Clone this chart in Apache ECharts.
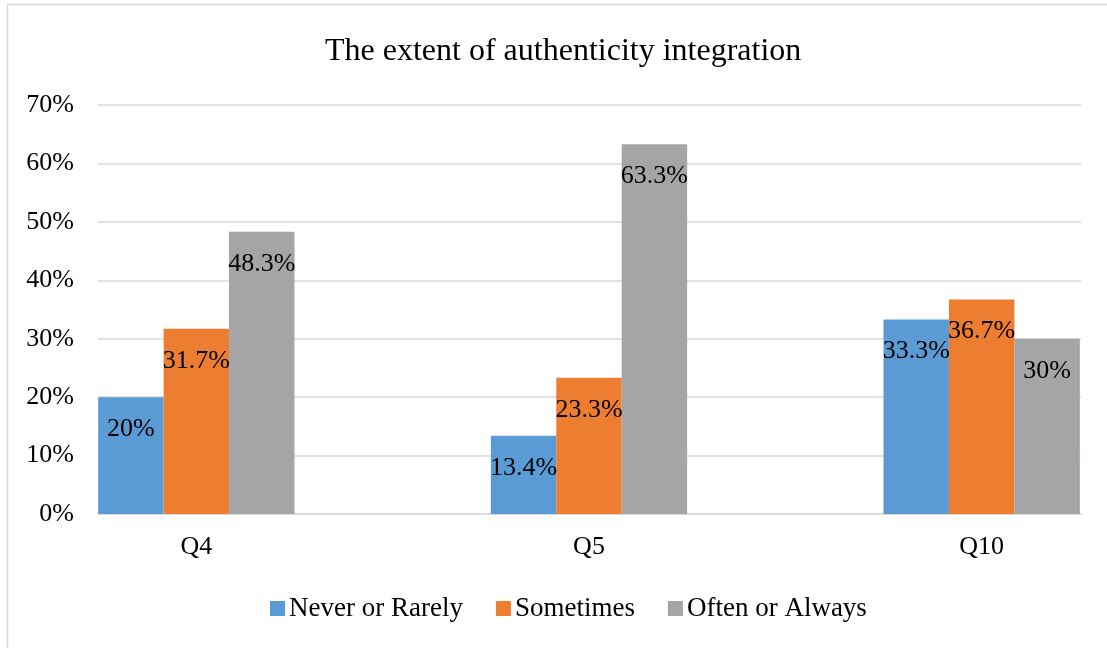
<!DOCTYPE html>
<html>
<head>
<meta charset="utf-8">
<script src="https://cdn.jsdelivr.net/npm/echarts@6/dist/echarts.min.js"></script>
<style>
html,body{margin:0;padding:0;background:#fff;}
#chart{width:1107px;height:648px;}
</style>
</head>
<body>
<div id="chart"></div>
<script>
const categories = ['Q4', 'Q5', 'Q10'];
const seriesNames = ['Never or Rarely', 'Sometimes', 'Often or Always'];
const neverOrRarely = [20, 13.4, 33.3];
const sometimes = [31.7, 23.3, 36.7];
const oftenOrAlways = [48.3, 63.3, 30];
const yTicks = [0, 10, 20, 30, 40, 50, 60, 70];
const titleText = 'The extent of authenticity integration';

const colors = ['#5b9bd5', '#ed7d31', '#a5a5a5'];
const font = 'Liberation Serif, Times New Roman, serif';
const seriesData = [neverOrRarely, sometimes, oftenOrAlways];

const chart = echarts.init(document.getElementById('chart'), null, {renderer: 'canvas'});
const yMin = yTicks[0], yMax = yTicks[yTicks.length - 1], yStep = yTicks[1] - yTicks[0];

chart.setOption({
  animation: false,
  backgroundColor: '#fff',
  color: colors,
  title: {
    text: titleText,
    left: 325,
    top: 36,
    padding: 0,
    textStyle: {fontFamily: font, fontSize: 32, fontWeight: 'normal', color: '#000'}
  },
  legend: {
    data: seriesNames,
    bottom: 26,
    left: 270,
    padding: 0,
    itemWidth: 15,
    itemHeight: 15,
    itemGap: 33,
    icon: 'rect',
    textStyle: {fontFamily: font, fontSize: 27, color: '#000', padding: [0, 0, 0, -1]}
  },
  graphic: [{
    type: 'rect',
    shape: {x: 7.5, y: 4.5, width: 1120, height: 660},
    style: {fill: 'none', stroke: '#d9d9d9', lineWidth: 1.5},
    silent: true
  }],
  grid: [
    {left: 98, right: 26, top: 105, bottom: 134, outerBoundsMode: 'none', containLabel: false},
    {left: 0, width: 1178, top: 105, bottom: 134, outerBoundsMode: 'none', containLabel: false}
  ],
  xAxis: [
    {
      gridIndex: 0, type: 'category', data: categories,
      axisLine: {show: true, lineStyle: {color: '#d9d9d9', width: 1.5}},
      axisTick: {show: false}, axisLabel: {show: false}, splitLine: {show: false}
    },
    {
      gridIndex: 1, type: 'category', data: categories,
      axisLine: {show: false}, axisTick: {show: false},
      axisLabel: {fontFamily: font, fontSize: 26, color: '#000', margin: 20}
    }
  ],
  yAxis: [
    {
      gridIndex: 0, type: 'value', min: yMin, max: yMax, interval: yStep,
      axisLine: {show: false}, axisTick: {show: false},
      axisLabel: {formatter: '{value}%', fontFamily: font, fontSize: 26, color: '#000', margin: 24},
      splitLine: {lineStyle: {color: '#d9d9d9', width: 1.5}}
    },
    {
      gridIndex: 1, type: 'value', min: yMin, max: yMax, interval: yStep,
      show: false, splitLine: {show: false}
    }
  ],
  series: seriesNames.map((name, i) => ({
    name: name,
    type: 'bar',
    xAxisIndex: 1,
    yAxisIndex: 1,
    data: seriesData[i],
    barGap: '0%',
    barCategoryGap: '50%',
    itemStyle: {color: colors[i]},
    label: {
      show: true,
      position: 'insideTop',
      distance: 19,
      formatter: (p) => p.value + '%',
      fontFamily: font,
      fontSize: 26,
      color: '#000'
    }
  }))
});
</script>
</body>
</html>
